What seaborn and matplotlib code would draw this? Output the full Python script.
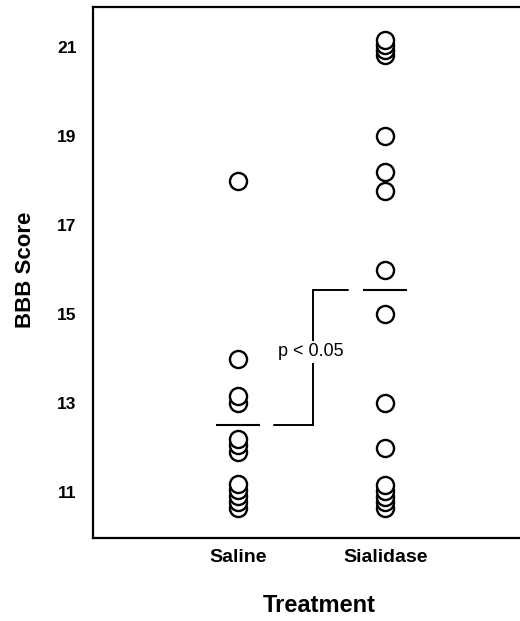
import matplotlib
matplotlib.use("Agg")
import matplotlib.pyplot as plt
import seaborn as sns
import pandas as pd
import numpy as np

# BBB locomotor scores per animal (overlapping scores are stacked slightly)
saline_scores = [18.0, 14.0, 13.15, 13.0, 12.2, 12.05, 11.9,
                 11.18, 11.04, 10.91, 10.78, 10.65]
sialidase_scores = [21.16, 21.04, 20.93, 20.82, 19.0, 18.2, 17.77, 16.0,
                    15.0, 13.0, 12.0, 11.15, 11.02, 10.9, 10.77, 10.65]
categories = ["Saline", "Sialidase"]
group_means = [12.5, 15.55]
y_ticks = [11, 13, 15, 17, 19, 21]
p_text = "p < 0.05"

df = pd.DataFrame({
    "Treatment": ["Saline"] * len(saline_scores) + ["Sialidase"] * len(sialidase_scores),
    "BBB Score": saline_scores + sialidase_scores,
})
# draw lower scores first so the upper circle of each stack sits on top
df = df.sort_values("BBB Score").reset_index(drop=True)

sns.set_style("white")
plt.rcParams["font.family"] = ["Liberation Sans", "DejaVu Sans"]
plt.rcParams.update({"text.color": "black", "axes.labelcolor": "black",
                     "xtick.color": "black", "ytick.color": "black"})

fig = plt.figure(figsize=(5.2, 6.21), dpi=100)
ax = fig.add_axes([0.179, 0.1337, 0.844, 0.855])

sns.stripplot(data=df, x="Treatment", y="BBB Score", order=categories,
              jitter=False, color="white", edgecolor="black", linewidth=1.7,
              size=12.3, ax=ax, zorder=3)

# group means
xs = np.arange(len(categories))
ax.hlines(group_means, xs - 0.15, xs + 0.15, color="black", linewidth=1.5, zorder=2)

# significance bracket between the two means
ax.plot([0.24, 0.51, 0.51, 0.75],
        [group_means[0], group_means[0], group_means[1], group_means[1]],
        color="black", linewidth=1.4, solid_joinstyle="miter", zorder=2)
ax.text(0.49, 14.15, p_text, ha="center", va="center", fontsize=13,
        color="black", bbox=dict(facecolor="white", edgecolor="none", pad=1.5),
        zorder=4)

ax.set_xlim(-0.99, 2.0)
ax.set_ylim(9.97, 21.9)
ax.set_yticks(y_ticks)
ax.set_yticklabels([str(t) for t in y_ticks], fontweight="bold", fontsize=12.5)
ax.set_xticks(xs)
ax.set_xticklabels(categories, fontweight="bold", fontsize=14)
ax.tick_params(axis="y", direction="in", length=6, width=1.5, pad=12)
ax.tick_params(axis="x", length=0, pad=8)

ax.set_ylabel("BBB Score", fontweight="bold", fontsize=16)
ax.yaxis.set_label_coords(-0.13, 0.505)
ax.set_xlabel("Treatment", fontweight="bold", fontsize=17, labelpad=22)
ax.xaxis.set_label_coords(0.515, -0.105)

for side in ["left", "bottom", "top", "right"]:
    ax.spines[side].set_visible(True)
    ax.spines[side].set_color("black")
    ax.spines[side].set_linewidth(1.6)

fig.savefig("out.png", dpi=100, facecolor="white")
